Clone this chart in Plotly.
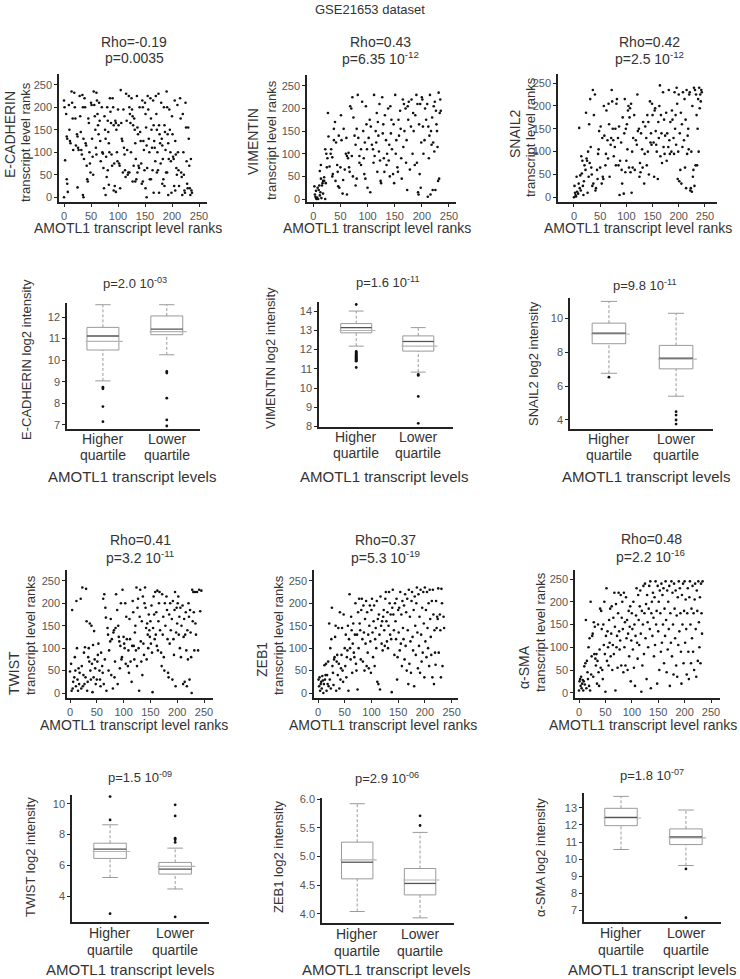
import plotly.graph_objects as go

W, H = 740, 979
FONT = "Liberation Sans, Arial, sans-serif"
TXT = "#333333"
TICK = "#555555"
AXL = "#222222"

# ---------------- data ----------------
title_text = "GSE21653 dataset"
genes = ["E-CADHERIN", "VIMENTIN", "SNAIL2", "TWIST", "ZEB1", "α-SMA"]
rho_text = ["Rho=-0.19", "Rho=0.43", "Rho=0.42", "Rho=0.41", "Rho=0.37", "Rho=0.48"]
rho_p_text = ["p=0.0035", "p=6.35 10<sup>-12</sup>", "p=2.5 10<sup>-12</sup>",
              "p=3.2 10<sup>-11</sup>", "p=5.3 10<sup>-19</sup>", "p=2.2 10<sup>-16</sup>"]
box_p_text = ["p=2.0 10<sup>-03</sup>", "p=1.6 10<sup>-11</sup>", "p=9.8 10<sup>-11</sup>",
              "p=1.5 10<sup>-09</sup>", "p=2.9 10<sup>-06</sup>", "p=1.8 10<sup>-07</sup>"]
group_line1 = ["Higher", "Lower"]
group_line2 = ["quartile", "quartile"]
scatter_xtitle = "AMOTL1 transcript level ranks"
scatter_ytitle2 = "transcript level ranks"
box_xtitle = "AMOTL1 transcript levels"
rank_ticks = [0, 50, 100, 150, 200, 250]

ecad_pts = [(0,215),(1,200),(2,82),(0,0),(4,185),(5,135),(6,130),(5,40),(6,30),(7,12),
 (9,205),(10,150),(11,125),(12,120),(14,235),(15,210),(16,175),(17,105),(19,232),(20,200),(21,175),(22,115),
 (24,140),(25,135),(26,110),(27,105),(25,22),(29,225),(30,180),(31,145),(32,105),(33,95),
 (34,227),(35,200),(36,130),(37,85),(35,5),(36,0),(38,220),(39,200),(40,120),(41,115),(42,70),(43,40),(44,35),
 (45,175),(46,165),(47,100),(48,75),(49,55),(50,210),(51,205),(52,130),(53,90),(54,50),
 (55,235),(56,205),(57,180),(58,150),(59,110),(60,232),(61,215),(62,185),(63,160),(64,140),(60,95),
 (65,210),(66,170),(67,125),(68,80),(70,200),(71,100),(72,97),(73,65),(74,20),
 (75,180),(76,150),(77,130),(78,90),(79,45),(77,5),(80,200),(81,170),(82,145),(83,120),(84,100),(81,60),(83,28),
 (85,220),(86,190),(87,165),(88,95),(89,70),(90,220),(91,200),(92,160),(93,75),(94,25),(92,15),
 (95,170),(96,165),(97,150),(98,100),(99,80),(96,12),(100,195),(101,160),(102,75),(103,70),(104,20),
 (105,238),(106,165),(107,130),(108,125),(109,55),(110,195),(111,110),(112,95),(113,60),(114,45),
 (115,230),(116,170),(117,105),(118,50),(119,55),(120,225),(121,200),(122,185),(123,165),(124,100),(121,55),
 (125,220),(126,195),(127,180),(128,160),(129,70),(127,35),(130,175),(131,150),(132,120),(133,85),(134,40),(132,35),
 (135,225),(136,155),(137,140),(138,70),(139,65),(136,55),(140,200),(141,145),(142,125),(143,75),(144,30),
 (145,215),(146,200),(147,125),(148,105),(149,60),(146,35),(150,210),(151,185),(152,155),(153,115),(154,65),(151,20),(153,0),
 (155,225),(156,195),(157,130),(158,100),(159,40),(160,220),(161,175),(162,150),(163,110),(164,60),(161,40),
 (165,215),(166,160),(167,125),(168,110),(169,80),(166,10),(170,225),(171,185),(172,150),(173,100),(174,60),(172,55),
 (175,230),(176,160),(177,140),(178,120),(179,75),(176,10),(180,210),(181,130),(182,115),(183,85),(184,40),(182,30),
 (185,200),(186,160),(187,145),(188,105),(189,55),(186,25),(190,235),(191,200),(192,140),(193,120),(194,85),(191,55),(193,5),
 (195,195),(196,150),(197,100),(198,80),(199,10),(200,180),(201,140),(202,90),(203,85),(204,25),
 (205,215),(206,125),(207,95),(208,65),(209,50),(206,15),(210,205),(211,100),(212,60),(213,25),
 (215,220),(216,175),(217,55),(218,45),(219,5),(220,185),(221,100),(222,50),(223,15),(224,10),
 (225,210),(226,155),(227,80),(228,30),(229,20),(230,155),(231,130),(232,70),(233,20),(234,5),
 (235,85),(236,15),(237,10)]

vim_pts = [(2,28),(4,5),(5,2),(6,0),(7,3),(3,10),(8,25),(10,20),(12,8),(13,15),(15,2),(5,18),(9,0),(11,30),
 (16,30),(18,12),(20,40),(22,0),(14,45),(17,35),(12,62),(14,75),(20,48),(22,110),(24,100),(25,70),(27,190),
 (28,138),(30,72),(26,90),(18,40),(23,35),(32,100),(33,110),(35,50),(36,55),(38,155),(40,170),(41,40),(42,125),
 (44,75),(45,60),(46,28),(47,140),(48,25),(50,70),(51,185),(52,130),(54,12),(55,42),(38,130),(35,92),
 (56,155),(58,65),(60,100),(62,95),(62,10),(64,90),(65,102),(66,70),(68,205),(70,200),(71,95),(72,225),
 (74,180),(73,50),(67,60),(61,135),(76,140),(78,30),(78,120),(80,155),(80,45),(82,230),(83,135),(85,95),
 (85,80),(88,110),(88,75),(90,215),(92,150),(93,90),(94,55),(95,125),(96,45),(97,205),(98,165),(99,110),(100,25),
 (102,135),(104,175),(105,15),(106,160),(108,120),(110,110),(111,80),(112,230),(113,95),(115,150),(117,190),
 (118,60),(120,140),(121,105),(122,210),(123,85),(124,40),(125,35),(119,170),(116,125),
 (127,225),(128,145),(129,165),(130,90),(131,60),(132,185),(134,130),(135,75),(136,100),(138,200),(140,120),
 (141,50),(142,205),(144,175),(145,110),(147,55),(148,165),(149,35),(143,145),(139,85),
 (151,230),(152,100),(153,130),(155,70),(156,60),(157,175),(158,140),(160,195),(161,155),(162,90),(163,45),
 (165,220),(166,115),(167,210),(168,150),(170,200),(171,80),(172,130),(173,20),(174,205),(175,175),
 (176,215),(178,65),(180,160),(181,220),(183,100),(184,190),(185,150),(187,75),(188,185),(190,230),(191,80),
 (192,210),(193,15),(195,165),(196,55),(197,210),(198,25),(199,125),(200,225),(194,10),
 (201,220),(202,160),(203,100),(205,130),(206,200),(208,175),(210,210),(211,5),(212,160),(213,90),(214,140),
 (215,230),(216,10),(217,150),(218,120),(220,20),(221,125),(222,205),(223,105),(224,215),(225,20),(226,195),
 (228,150),(229,115),(230,40),(231,235),(232,45),(233,190),(234,220),(235,195),(227,165),(219,180)]

snail_pts = [(0,0),(1,25),(2,10),(3,5),(4,2),(5,45),(6,12),(8,8),(9,30),(10,152),(11,20),(12,48),(13,15),(14,90),
 (15,52),(16,80),(17,25),(18,5),(19,35),(20,70),(22,60),(23,185),(24,85),(25,80),(26,10),(27,100),(28,45),(29,160),
 (30,75),(31,215),(32,110),(33,65),(34,50),(35,25),(36,235),(37,30),(38,180),(40,225),(41,15),(42,20),(44,60),
 (45,40),(46,95),(47,105),(48,145),(50,65),(51,155),(53,30),(54,130),(55,45),(56,40),(57,200),(58,135),(60,70),
 (61,95),(62,190),(64,125),(65,85),(66,205),(67,160),(68,45),(70,115),(71,130),(72,235),(73,210),(74,150),(75,125),
 (76,90),(78,110),(79,150),(80,70),(81,205),(82,215),(84,130),(85,70),(86,155),(87,5),(88,80),(90,120),(91,60),
 (92,30),(93,175),(95,8),(96,140),(97,215),(98,55),(99,150),(100,80),(101,160),(102,105),(103,190),(104,200),
 (105,65),(106,175),(107,195),(108,55),(109,205),(110,10),(111,100),(112,65),(113,130),(115,180),(116,60),(118,125),
 (120,115),(121,225),(122,145),(124,150),(125,45),(126,75),(127,55),(128,140),(130,105),(131,65),(132,165),(134,30),
 (135,95),(136,155),(138,130),(139,70),(140,180),(141,100),(142,165),(143,50),(145,210),(146,120),(147,140),(148,115),
 (149,205),(150,180),(152,120),(153,45),(154,190),(155,195),(156,145),(157,115),(158,100),(160,40),(161,165),(162,130),
 (163,200),(164,245),(165,90),(166,180),(167,140),(168,75),(170,230),(171,110),(172,170),(173,95),(174,135),(176,185),
 (177,80),(178,140),(180,110),(181,235),(182,125),(183,95),(184,165),(186,100),(187,190),(188,170),(190,130),(191,95),
 (192,230),(193,150),(194,180),(195,115),(196,240),(197,205),(198,40),(199,100),(200,225),(201,35),(202,140),(203,60),
 (204,185),(205,30),(206,160),(207,110),(208,230),(210,125),(211,215),(212,65),(213,170),(214,20),(215,235),(216,95),
 (217,135),(218,150),(219,105),(220,225),(221,230),(222,15),(223,20),(224,100),(225,12),(226,200),(227,45),(228,60),
 (229,240),(230,25),(231,235),(232,70),(233,225),(234,180),(235,70),(236,150),(237,215),(238,100),(239,240),(240,195),
 (241,225),(242,210),(243,235),(244,230)]

twist_pts = [(0,48),(2,65),(3,5),(4,185),(5,10),(6,25),(8,35),(9,80),(10,50),(11,15),(12,205),(13,100),(14,30),(15,5),
 (16,55),(17,20),(18,45),(20,210),(21,10),(22,60),(23,235),(24,15),(25,40),(26,90),(27,20),(28,102),(29,35),(30,232),
 (31,160),(32,5),(33,25),(34,80),(35,100),(36,70),(37,155),(38,50),(39,30),(40,150),(41,65),(42,2),(43,107),(44,35),
 (45,138),(46,75),(47,55),(48,20),(50,30),(51,70),(52,85),(53,110),(55,50),(56,30),(57,15),(58,90),(60,60),(61,45),
 (62,210),(63,20),(64,220),(65,75),(66,190),(67,168),(68,5),(70,145),(71,130),(72,50),(73,95),(75,115),(76,165),(77,40),
 (78,120),(80,10),(81,135),(82,140),(83,35),(84,70),(85,145),(86,220),(88,185),(89,20),(90,150),(91,125),(92,115),
 (93,55),(94,105),(95,200),(96,75),(97,80),(98,230),(100,125),(101,110),(102,100),(103,200),(104,65),(105,170),
 (106,120),(108,60),(109,95),(110,45),(111,165),(112,120),(113,70),(115,25),(116,105),(117,205),(118,180),(119,105),
 (120,75),(121,135),(122,150),(123,95),(124,235),(125,60),(126,190),(127,210),(128,100),(129,5),(130,170),(131,230),
 (132,115),(133,70),(134,160),(135,40),(136,215),(137,110),(138,85),(139,200),(140,235),(141,190),(142,145),(143,75),
 (144,155),(145,130),(146,100),(147,175),(148,140),(149,125),(150,160),(151,110),(152,195),(153,90),(154,2),(155,145),
 (156,215),(157,175),(158,120),(159,225),(160,130),(161,180),(162,105),(163,228),(164,95),(165,160),(166,200),(167,225),
 (168,140),(170,90),(171,60),(172,220),(173,130),(174,170),(175,80),(176,50),(177,200),(178,150),(180,215),(181,185),
 (182,120),(183,45),(184,35),(185,175),(186,110),(187,200),(188,140),(190,165),(191,30),(192,205),(193,120),(194,85),
 (195,185),(196,225),(197,15),(198,135),(199,190),(200,155),(201,200),(202,215),(203,130),(204,170),(205,100),(206,190),
 (207,80),(208,150),(210,195),(211,20),(212,125),(213,165),(214,25),(215,130),(216,180),(217,95),(218,15),(219,140),
 (220,75),(221,200),(222,170),(223,30),(224,185),(225,135),(226,80),(227,0),(228,230),(229,160),(230,225),(231,180),
 (232,95),(233,225),(234,155),(235,130),(237,225),(239,95),(241,230),(243,182),(245,228)]

zeb_pts = [(1,30),(2,15),(3,35),(4,5),(5,20),(6,25),(7,10),(8,38),(9,28),(10,0),(11,20),(12,62),(13,30),(14,40),(15,65),
 (16,5),(17,40),(18,20),(19,70),(20,15),(21,155),(22,30),(23,100),(24,10),(25,120),(26,190),(27,60),(28,45),(29,18),
 (30,75),(31,80),(32,125),(33,150),(34,5),(35,70),(36,85),(37,40),(38,145),(39,65),(40,10),(41,180),(42,30),(43,55),
 (44,85),(45,145),(46,50),(47,25),(48,175),(50,100),(51,60),(52,130),(53,35),(54,80),(55,95),(56,150),(57,5),(58,120),
 (59,220),(60,100),(61,75),(62,170),(63,140),(64,45),(65,110),(66,155),(67,90),(68,80),(69,130),(70,200),(71,65),(72,50),
 (73,130),(74,8),(75,180),(76,100),(77,210),(78,155),(79,140),(80,75),(81,185),(82,210),(83,120),(84,70),(85,195),
 (86,135),(87,50),(88,165),(89,110),(90,205),(91,60),(92,180),(93,90),(94,130),(95,55),(96,150),(97,195),(98,115),
 (99,45),(100,185),(101,210),(102,135),(103,80),(104,160),(105,195),(106,60),(107,120),(108,145),(109,100),(110,205),
 (111,25),(112,165),(113,20),(114,175),(115,130),(116,8),(117,215),(118,150),(119,110),(120,160),(121,95),(122,170),
 (123,185),(124,140),(125,105),(126,210),(127,225),(128,160),(129,115),(130,180),(131,100),(132,150),(133,225),
 (134,200),(135,130),(136,175),(137,120),(138,2),(139,190),(140,230),(141,175),(142,140),(143,85),(144,200),(145,160),
 (146,120),(147,210),(148,30),(149,80),(150,185),(151,135),(152,190),(153,95),(154,225),(155,110),(156,175),(157,60),
 (158,205),(159,145),(160,120),(161,195),(162,75),(163,220),(164,105),(165,180),(166,50),(167,210),(168,140),(169,20),
 (170,230),(171,65),(172,170),(173,115),(174,45),(175,205),(176,225),(177,125),(178,95),(179,185),(180,15),(181,215),
 (182,150),(183,85),(184,200),(185,235),(186,135),(187,55),(188,220),(189,105),(190,170),(191,45),(192,230),(193,130),
 (194,70),(195,190),(196,90),(197,225),(198,155),(199,35),(200,235),(201,115),(202,185),(203,80),(204,225),(205,145),
 (206,100),(207,200),(208,60),(209,230),(210,165),(211,125),(212,85),(213,205),(214,35),(215,230),(216,175),(217,20),
 (218,140),(219,90),(220,63),(221,205),(222,145),(223,170),(224,165),(225,233),(226,90),(228,175),(229,140),(230,35),
 (231,232),(232,200),(233,60),(235,170),(236,145)]

sma_pts = [(0,5),(1,25),(2,30),(3,15),(4,35),(5,10),(6,20),(7,28),(8,5),(9,25),(10,58),(11,18),(12,65),(13,160),(14,10),
 (15,70),(16,45),(17,30),(18,100),(19,15),(20,120),(21,5),(22,200),(23,40),(24,80),(25,125),(26,130),(27,35),(28,155),
 (29,85),(30,145),(31,75),(32,60),(33,85),(34,20),(35,70),(36,150),(37,45),(38,15),(39,95),(40,185),(41,55),(42,180),
 (43,140),(44,50),(45,30),(46,150),(47,105),(48,200),(49,85),(50,2),(51,125),(52,230),(53,70),(54,135),(55,100),(56,60),
 (57,160),(58,110),(59,185),(60,80),(61,130),(62,190),(63,50),(64,105),(65,165),(66,85),(67,220),(68,145),(69,5),
 (70,195),(71,100),(72,125),(73,55),(74,175),(75,220),(76,135),(77,95),(78,115),(79,215),(80,60),(81,165),(82,200),
 (83,140),(84,45),(85,220),(86,100),(87,155),(88,60),(89,210),(90,120),(91,160),(92,50),(93,130),(94,180),(95,80),
 (96,145),(97,190),(98,25),(99,115),(100,175),(101,140),(102,95),(103,200),(104,55),(105,150),(106,15),(107,125),
 (108,170),(109,230),(110,110),(111,75),(112,215),(113,160),(114,105),(115,190),(116,225),(117,130),(118,2),(119,180),
 (120,60),(121,150),(122,235),(123,85),(124,175),(125,240),(126,120),(127,195),(128,30),(129,215),(130,155),(131,100),
 (132,185),(133,235),(134,140),(135,245),(136,10),(137,175),(138,200),(139,125),(140,220),(141,165),(142,80),(143,210),
 (144,105),(145,245),(146,150),(147,180),(148,20),(149,235),(150,135),(151,200),(152,50),(153,225),(154,175),(155,90),
 (156,240),(157,110),(158,215),(159,150),(160,230),(161,65),(162,185),(163,125),(164,245),(165,160),(166,45),(167,225),
 (168,95),(169,200),(170,140),(171,235),(172,15),(173,175),(174,110),(175,245),(176,80),(177,220),(178,150),(179,40),
 (180,240),(181,185),(182,120),(183,225),(184,60),(185,170),(186,35),(187,210),(188,105),(189,245),(190,135),(191,230),
 (192,175),(193,90),(194,20),(195,215),(196,150),(197,240),(198,65),(199,180),(200,245),(201,110),(202,205),(203,140),
 (204,40),(205,175),(206,230),(207,90),(208,30),(209,210),(210,245),(211,150),(212,65),(213,185),(214,120),(215,235),
 (216,90),(217,175),(218,50),(219,205),(220,240),(221,140),(222,35),(223,225),(224,180),(225,70),(226,245),(227,155),
 (228,100),(229,210),(230,65),(231,240),(232,175),(233,130),(234,245)]

scatter_data = [ecad_pts, vim_pts, snail_pts, twist_pts, zeb_pts, sma_pts]

# box statistics per gene: [Higher quartile, Lower quartile]
box_lo = [[9.04, 10.25], [12.18, 10.83], [6.75, 5.40], [5.21, 4.46], [4.04, 3.93], [10.56, 9.62]]
box_q1 = [[10.47, 11.18], [12.87, 11.92], [8.49, 7.01], [6.45, 5.43], [4.61, 4.33], [11.96, 10.85]]
box_med = [[11.12, 11.44], [13.14, 12.42], [9.11, 7.64], [7.05, 5.75], [4.90, 4.53], [12.45, 11.30]]
box_mean = [[10.87, 11.32], [12.99, 12.18], [9.06, 7.58], [6.90, 5.93], [4.94, 4.59], [12.41, 11.24]]
box_q3 = [[11.52, 12.05], [13.35, 12.71], [9.70, 8.39], [7.44, 6.19], [5.25, 4.79], [12.98, 11.77]]
box_hi = [[12.57, 12.57], [14.0, 13.14], [10.98, 10.28], [8.64, 7.12], [5.92, 5.42], [13.68, 12.88]]
box_out = [
    [[8.75, 8.67, 7.85, 7.15], [9.48, 9.40, 8.24, 7.23, 6.95]],
    [[14.34, 11.90, 11.85, 11.80, 11.75, 11.70, 11.65, 11.60, 11.55, 11.50, 11.45, 11.40, 11.07], [10.71, 10.66, 9.57, 8.17]],
    [[6.52], [4.49, 4.29, 4.00, 3.76]],
    [[10.48, 8.96, 2.85], [9.94, 9.22, 7.77, 7.66, 7.49, 2.64]],
    [[], [5.71, 5.54]],
    [[], [9.42, 6.55]],
]
box_yticks = [[7, 8, 9, 10, 11, 12], [8, 9, 10, 11, 12, 13, 14], [4, 6, 8, 10],
              [4, 6, 8, 10], [4.0, 4.5, 5.0, 5.5, 6.0], [7, 8, 9, 10, 11, 12, 13]]

# ---------------- layout geometry (pixels) ----------------
sc_geo = [
    (59, 207, 74, 202, [-9.3, 264.8], [-10.4, 273.7]),
    (307, 456, 75, 202, [-11.6, 263], [-6.6, 274]),
    (558, 717, 74, 202, [-30.5, 273], [-10.3, 270]),
    (67, 213, 570, 698, [-5.6, 266.8], [-11, 274]),
    (314, 458, 570, 698, [-7.5, 262], [-11, 274]),
    (575, 720, 570, 698, [-7.6, 267], [-11.6, 270]),
]
bx_geo = [
    (67, 200, 303, 429, [0.4375, 2.52], [6.81, 12.65]),
    (319, 453, 302, 427, [0.40, 2.56], [7.98, 14.47]),
    (570, 713, 298, 429, [0.42, 2.55], [3.47, 11.18]),
    (72, 209, 795, 922, [0.415, 2.52], [2.31, 10.58]),
    (322, 454, 798, 923, [0.44, 2.54], [3.84, 6.02]),
    (584, 721, 793, 922, [0.43, 2.54], [6.3, 13.88]),
]


def px(x):
    return x / W


def py(y):
    return 1 - y / H


def ann(text, x, y, size=13, color=TXT, angle=0, xref="paper"):
    return dict(text=text, x=(x if xref != "paper" else px(x)), y=py(y), xref=xref, yref="paper",
                showarrow=False, textangle=angle, xanchor="center", yanchor="middle",
                font=dict(size=size, color=color, family=FONT))


fig = go.Figure()
layout = dict(template="none", width=W, height=H, margin=dict(l=0, r=0, t=0, b=0, pad=0, autoexpand=False),
              paper_bgcolor="white", plot_bgcolor="white", showlegend=False,
              font=dict(family=FONT, color=TXT))
shapes = []
annotations = [ann(title_text, 370, 10, size=13)]

axis_common = dict(showline=True, linecolor=AXL, linewidth=1.5, showgrid=False, zeroline=False,
                   automargin=False, tickfont=dict(size=11, color=TICK, family=FONT),
                   ticklen=3, tickcolor=AXL, tickwidth=1)

for i, (pts, geo) in enumerate(zip(scatter_data, sc_geo)):
    n = i + 1
    sfx = "" if n == 1 else str(n)
    x0, x1, yt, yb, xr, yr = geo
    fig.add_trace(go.Scatter(x=[p[0] for p in pts], y=[p[1] for p in pts], mode="markers",
                             marker=dict(size=2.6, color="#111111", line=dict(width=0)),
                             xaxis="x" + sfx, yaxis="y" + sfx, hoverinfo="skip"))
    layout["xaxis" + sfx] = dict(axis_common, domain=[px(x0), px(x1)], range=xr, anchor="y" + sfx,
                                 tickvals=rank_ticks, ticks="outside")
    layout["yaxis" + sfx] = dict(axis_common, domain=[py(yb), py(yt)], range=yr, anchor="x" + sfx,
                                 tickvals=rank_ticks, ticks="outside")

for i, geo in enumerate(bx_geo):
    n = i + 7
    sfx = str(n)
    x0, x1, yt, yb, xr, yr = geo
    layout["xaxis" + sfx] = dict(axis_common, domain=[px(x0), px(x1)], range=xr, anchor="y" + sfx,
                                 ticks="", showticklabels=False)
    yax = dict(axis_common, domain=[py(yb), py(yt)], range=yr, anchor="x" + sfx,
               tickvals=box_yticks[i], ticks="outside")
    if i == 4:
        yax["tickformat"] = ".1f"
    layout["yaxis" + sfx] = yax
    xref, yref = "x" + sfx, "y" + sfx
    for g in range(2):
        c = g + 1
        shapes.append(dict(type="line", xref=xref, yref=yref, x0=c, x1=c, y0=box_q3[i][g], y1=box_hi[i][g],
                           line=dict(color="#9a9a9a", width=1, dash="3px,2px")))
        shapes.append(dict(type="line", xref=xref, yref=yref, x0=c, x1=c, y0=box_lo[i][g], y1=box_q1[i][g],
                           line=dict(color="#9a9a9a", width=1, dash="3px,2px")))
        for v in (box_hi[i][g], box_lo[i][g]):
            shapes.append(dict(type="line", xref=xref, yref=yref, x0=c - 0.12, x1=c + 0.12, y0=v, y1=v,
                               line=dict(color="#9a9a9a", width=1)))
        shapes.append(dict(type="rect", xref=xref, yref=yref, x0=c - 0.25, x1=c + 0.25,
                           y0=box_q1[i][g], y1=box_q3[i][g], line=dict(color="#9a9a9a", width=1),
                           fillcolor="rgba(0,0,0,0)"))
        shapes.append(dict(type="line", xref=xref, yref=yref, x0=c - 0.27, x1=c + 0.31,
                           y0=box_mean[i][g], y1=box_mean[i][g], line=dict(color="#b5b5b5", width=1.2)))
        shapes.append(dict(type="line", xref=xref, yref=yref, x0=c - 0.25, x1=c + 0.25,
                           y0=box_med[i][g], y1=box_med[i][g], line=dict(color="#555555", width=1.3)))
        if box_out[i][g]:
            fig.add_trace(go.Scatter(x=[c] * len(box_out[i][g]), y=box_out[i][g], mode="markers",
                                     marker=dict(size=2.8, color="#111111", line=dict(width=0)),
                                     xaxis=xref, yaxis=yref, hoverinfo="skip"))
        annotations.append(ann(group_line1[g], c, yb + 10 if i < 3 else yb + 11, size=14, xref=xref))
        annotations.append(ann(group_line2[g], c, yb + 26 if i < 3 else yb + 28, size=14, xref=xref))

rho_pos = [(134, 42, 58), (380, 42, 58), (649, 42, 58), (140, 540, 557), (385, 540, 557), (651, 539, 556)]
for i, (cx, y1, y2) in enumerate(rho_pos):
    annotations.append(ann(rho_text[i], cx, y1, size=14))
    annotations.append(ann(rho_p_text[i], cx, y2, size=14))

sc_xtitle_pos = [(128, 228), (377, 228), (638, 228), (134, 725), (383, 725), (643, 725)]
for (cx, cy) in sc_xtitle_pos:
    annotations.append(ann(scatter_xtitle, cx, cy, size=14))

gene_pos = [(10, 135), (253, 142), (515, 134), (14, 673), (262, 660), (524, 667)]
sub_pos = [(25, 142), (271, 140), (531, 137), (30, 635), (278, 635), (540, 632)]
for i in range(6):
    annotations.append(ann(genes[i], gene_pos[i][0], gene_pos[i][1], size=14, angle=-90))
    annotations.append(ann(scatter_ytitle2, sub_pos[i][0], sub_pos[i][1], size=13, angle=-90))

bp_pos = [(135, 283), (387, 282), (644, 285), (140, 777), (387, 778), (652, 775)]
for i, (cx, cy) in enumerate(bp_pos):
    annotations.append(ann(box_p_text[i], cx, cy, size=13))

bx_ytitle_pos = [(26, 360), (271, 358), (534, 364), (30, 857), (278, 857), (540, 858)]
for i, (cx, cy) in enumerate(bx_ytitle_pos):
    annotations.append(ann(genes[i] + " log2 intensity", cx, cy, size=13, angle=-90))

bx_xtitle_pos = [(132, 476), (384, 476), (646, 476), (130, 969), (386, 969), (652, 969)]
for (cx, cy) in bx_xtitle_pos:
    annotations.append(ann(box_xtitle, cx, cy, size=15))

layout["shapes"] = shapes
layout["annotations"] = annotations
fig.update_layout(**layout)
fig.write_html("out.html", config={"displayModeBar": False},
               post_script="document.body.style.margin='0';document.body.style.overflow='hidden';")
